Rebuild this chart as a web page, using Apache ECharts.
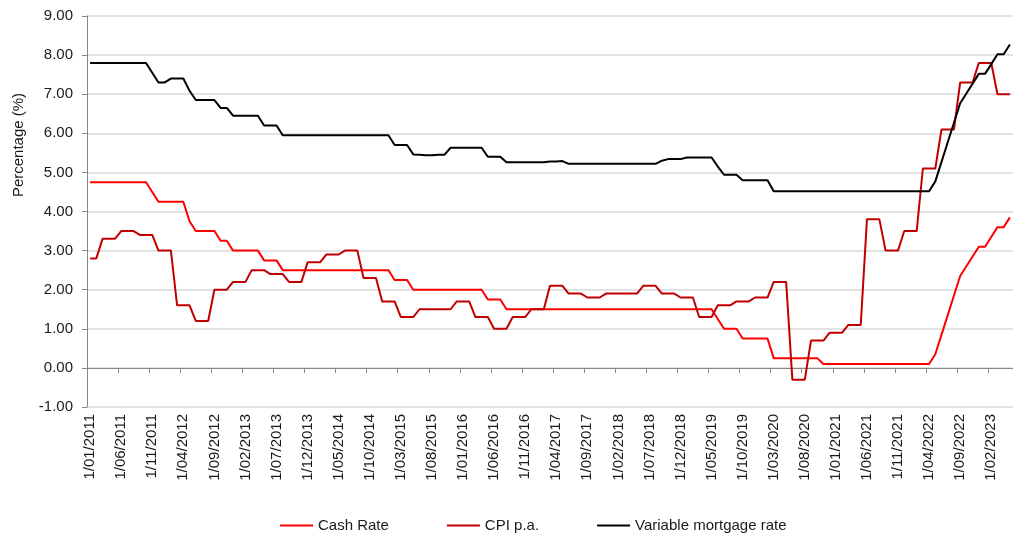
<!DOCTYPE html>
<html>
<head>
<meta charset="utf-8">
<script src="https://cdn.jsdelivr.net/npm/echarts@6/dist/echarts.min.js"></script>
<style>
  html, body { margin: 0; padding: 0; background: #fff; }
  #chart { width: 1013px; height: 537px; }
</style>
</head>
<body>
<div id="chart"></div>
<script>
// Monthly categories: 1/01/2011 .. 1/05/2023
var startYear = 2011, monthCount = 149;
var categories = [];
for (var k = 0; k < monthCount; k++) {
  var m = k % 12 + 1, y = startYear + Math.floor(k / 12);
  categories.push('1/' + (m < 10 ? '0' + m : '' + m) + '/' + y);
}

var seriesNames = ['Cash Rate', 'CPI p.a.', 'Variable mortgage rate'];

var cashRate = [
  4.75,4.75,4.75,4.75,4.75,4.75,4.75,4.75,4.75,4.75,
  4.5,4.25,4.25,4.25,4.25,4.25,3.75,3.5,3.5,3.5,
  3.5,3.25,3.25,3,3,3,3,3,2.75,2.75,
  2.75,2.5,2.5,2.5,2.5,2.5,2.5,2.5,2.5,2.5,
  2.5,2.5,2.5,2.5,2.5,2.5,2.5,2.5,2.5,2.25,
  2.25,2.25,2,2,2,2,2,2,2,2,
  2,2,2,2,1.75,1.75,1.75,1.5,1.5,1.5,
  1.5,1.5,1.5,1.5,1.5,1.5,1.5,1.5,1.5,1.5,
  1.5,1.5,1.5,1.5,1.5,1.5,1.5,1.5,1.5,1.5,
  1.5,1.5,1.5,1.5,1.5,1.5,1.5,1.5,1.5,1.5,
  1.5,1.25,1,1,1,0.75,0.75,0.75,0.75,0.75,
  0.25,0.25,0.25,0.25,0.25,0.25,0.25,0.25,0.1,0.1,
  0.1,0.1,0.1,0.1,0.1,0.1,0.1,0.1,0.1,0.1,
  0.1,0.1,0.1,0.1,0.1,0.1,0.35,0.85,1.35,1.85,
  2.35,2.6,2.85,3.1,3.1,3.35,3.6,3.6,3.85
];

var cpi = [
  2.8,2.8,3.3,3.3,3.3,3.5,3.5,3.5,3.4,3.4,
  3.4,3.0,3.0,3.0,1.6,1.6,1.6,1.2,1.2,1.2,
  2.0,2.0,2.0,2.2,2.2,2.2,2.5,2.5,2.5,2.4,
  2.4,2.4,2.2,2.2,2.2,2.7,2.7,2.7,2.9,2.9,
  2.9,3.0,3.0,3.0,2.3,2.3,2.3,1.7,1.7,1.7,
  1.3,1.3,1.3,1.5,1.5,1.5,1.5,1.5,1.5,1.7,
  1.7,1.7,1.3,1.3,1.3,1.0,1.0,1.0,1.3,1.3,
  1.3,1.5,1.5,1.5,2.1,2.1,2.1,1.9,1.9,1.9,
  1.8,1.8,1.8,1.9,1.9,1.9,1.9,1.9,1.9,2.1,
  2.1,2.1,1.9,1.9,1.9,1.8,1.8,1.8,1.3,1.3,
  1.3,1.6,1.6,1.6,1.7,1.7,1.7,1.8,1.8,1.8,
  2.2,2.2,2.2,-0.3,-0.3,-0.3,0.7,0.7,0.7,0.9,
  0.9,0.9,1.1,1.1,1.1,3.8,3.8,3.8,3.0,3.0,
  3.0,3.5,3.5,3.5,5.1,5.1,5.1,6.1,6.1,6.1,
  7.3,7.3,7.3,7.8,7.8,7.8,7.0,7.0,7.0
];

var mortgage = [
  7.8,7.8,7.8,7.8,7.8,7.8,7.8,7.8,7.8,7.8,
  7.55,7.3,7.3,7.4,7.4,7.4,7.09,6.85,6.85,6.85,
  6.85,6.65,6.65,6.45,6.45,6.45,6.45,6.45,6.2,6.2,
  6.2,5.95,5.95,5.95,5.95,5.95,5.95,5.95,5.95,5.95,
  5.95,5.95,5.95,5.95,5.95,5.95,5.95,5.95,5.95,5.7,
  5.7,5.7,5.46,5.45,5.44,5.44,5.45,5.45,5.63,5.63,
  5.63,5.63,5.63,5.63,5.4,5.4,5.4,5.26,5.26,5.26,
  5.26,5.26,5.26,5.26,5.28,5.28,5.29,5.22,5.22,5.22,
  5.22,5.22,5.22,5.22,5.22,5.22,5.22,5.22,5.22,5.22,
  5.22,5.22,5.3,5.34,5.34,5.34,5.38,5.38,5.38,5.38,
  5.38,5.15,4.94,4.94,4.94,4.8,4.8,4.8,4.8,4.8,
  4.52,4.52,4.52,4.52,4.52,4.52,4.52,4.52,4.52,4.52,
  4.52,4.52,4.52,4.52,4.52,4.52,4.52,4.52,4.52,4.52,
  4.52,4.52,4.52,4.52,4.52,4.52,4.77,5.27,5.77,6.27,
  6.77,7.02,7.27,7.52,7.52,7.77,8.02,8.02,8.27
];

var FONT = '"Liberation Sans", Arial, sans-serif';
var TXT = '#1a1a1a';
var AXIS = '#868686';

var chart = echarts.init(document.getElementById('chart'), null, { renderer: 'canvas' });
chart.setOption({
  animation: false,
  backgroundColor: '#ffffff',
  textStyle: { fontFamily: FONT },
  grid: { left: 87, right: -2, top: 16, bottom: 130, containLabel: false },
  legend: {
    left: 275, top: 513, icon: 'rect',
    itemWidth: 33, itemHeight: 2, itemGap: 58,
    textStyle: { fontSize: 15, color: TXT, fontFamily: FONT },
    data: seriesNames
  },
  graphic: [{
    type: 'text', x: 19, y: 145, rotation: Math.PI / 2,
    style: { text: 'Percentage (%)', fontSize: 15, fontFamily: FONT, fill: TXT, align: 'center', verticalAlign: 'middle' }
  }],
  xAxis: [
    {
      type: 'category', data: categories, boundaryGap: true,
      axisLine: { show: false, onZero: false },
      axisTick: { show: false },
      axisLabel: { interval: 4, rotate: 90, margin: 7, fontSize: 15, color: TXT, fontFamily: FONT },
      splitLine: { show: false }
    },
    {
      type: 'category', data: categories, boundaryGap: true, position: 'bottom',
      axisLine: { show: true, onZero: true, lineStyle: { color: AXIS, width: 1 } },
      axisTick: { show: true, interval: 4, length: 5, lineStyle: { color: AXIS } },
      axisLabel: { show: false },
      splitLine: { show: false }
    }
  ],
  yAxis: {
    type: 'value', min: -1, max: 9, interval: 1,
    axisLine: { show: true, lineStyle: { color: AXIS, width: 1 } },
    axisTick: { show: true, length: 5, lineStyle: { color: AXIS } },
    axisLabel: { fontSize: 15, margin: 14, color: TXT, fontFamily: FONT,
      formatter: function (v) { return v.toFixed(2); } },
    splitLine: { show: true, lineStyle: { color: '#D9D9D9', width: 1.5 } }
  },
  series: [
    { name: seriesNames[0], type: 'line', data: cashRate, symbol: 'none', xAxisIndex: 0,
      lineStyle: { color: '#FF0000', width: 2 }, itemStyle: { color: '#FF0000' } },
    { name: seriesNames[1], type: 'line', data: cpi, symbol: 'none', xAxisIndex: 0,
      lineStyle: { color: '#C00000', width: 2 }, itemStyle: { color: '#C00000' } },
    { name: seriesNames[2], type: 'line', data: mortgage, symbol: 'none', xAxisIndex: 0,
      lineStyle: { color: '#000000', width: 2 }, itemStyle: { color: '#000000' } }
  ]
});
</script>
</body>
</html>
